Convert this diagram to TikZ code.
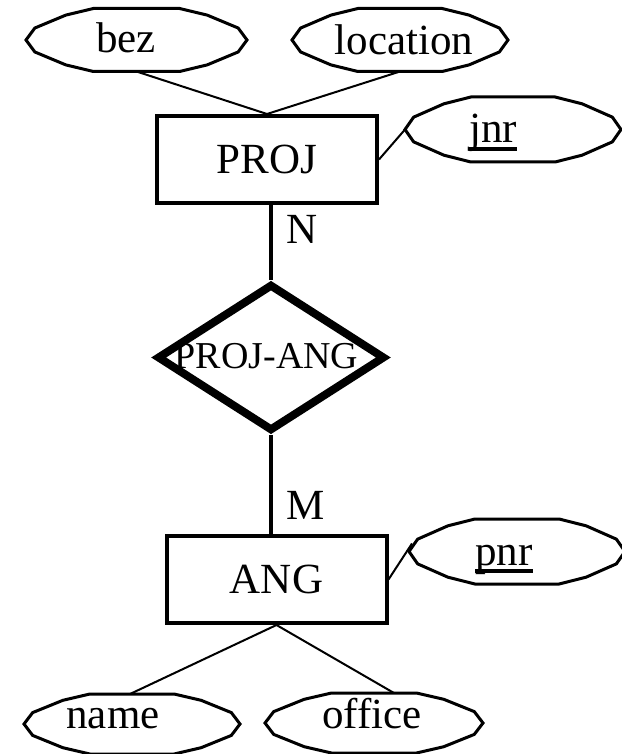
\documentclass[tikz,border=0pt]{standalone}
\usepackage{fontspec}
\setmainfont{Liberation Serif}
\usetikzlibrary{shapes.geometric,calc}

\tikzset{
  ovalline/.style={line width=3pt, line join=miter},
  conn/.style={line width=2pt},
  relconn/.style={line width=4pt},
  entity/.style={draw, rectangle, line width=4pt, minimum width=220pt,
    minimum height=87pt, inner sep=0pt, font=\fontsize{43}{50}\selectfont},
  relship/.style={draw, diamond, line width=8pt, minimum width=228pt,
    minimum height=147pt, inner sep=0pt},
  txt/.style={inner sep=0pt, anchor=base, font=\fontsize{43}{50}\selectfont},
  keyline/.style={line width=3.5pt},
}

% attribute outline: a flat-topped polygonal oval around a centre
% #1 prefix for the named points, #2 centre, #3 half width, #4 half height
\newcommand\attroval[4]{%
  \begin{scope}[shift={(#2)}, x=#3pt, y=#4pt]
    \draw[ovalline] (0.39,1) -- (0.64,0.79) -- (0.92,0.38) -- (1,0)
      -- (0.92,-0.38) -- (0.64,-0.79) -- (0.39,-1) -- (-0.39,-1)
      -- (-0.64,-0.79) -- (-0.92,-0.38) -- (-1,0) -- (-0.92,0.38)
      -- (-0.64,0.79) -- (-0.39,1) -- cycle;
    \coordinate (#1-n) at (0,1);
    \coordinate (#1-s) at (0,-1);
    \coordinate (#1-w) at (-1,0);
  \end{scope}}

\begin{document}
\begin{tikzpicture}[x=1pt, y=-1pt]
  \useasboundingbox (0,0) rectangle (621,754);

  % entities and relationship
  \node[entity] (proj) at (267,159.5) {PROJ};
  \node[entity] (ang) at (276.5,579.5) {ANG};
  \node[relship] (rel) at (271,357.5) {};
  \node[txt, font=\fontsize{38}{44}\selectfont] (relname) at (266.5,368) {PROJ-ANG};

  \draw[relconn] (rel.north |- proj.south) -- (rel.north);
  \draw[relconn] (rel.south) -- (rel.south |- ang.north);
  \node[txt, anchor=base west] (cardn) at (286,243) {N};
  \node[txt, anchor=base west] (cardm) at (286,519) {M};

  % attributes of PROJ
  \attroval{bez}{136.5,40}{110.5}{31.5}
  \node[txt] (bez) at (126,53) {bez};
  \attroval{loc}{400,40}{108}{31.5}
  \node[txt] (location) at (404,55) {location};
  \attroval{jnr}{513,129.5}{108}{32.5}
  \node[txt] (jnr) at (493,143) {jnr};
  \draw[keyline] ([yshift=-6pt]jnr.base west) -- ([yshift=-6pt]jnr.base east);

  \draw[conn] (bez-s) -- (proj.north);
  \draw[conn] (loc-s) -- (proj.north);
  \draw[conn] (proj.east) -- (jnr-w);

  % attributes of ANG
  \attroval{pnr}{517,551.5}{108}{32.5}
  \node[txt] (pnr) at (504,565) {pnr};
  \draw[keyline] ([yshift=-6pt]pnr.base west) -- ([yshift=-6pt]pnr.base east);
  \attroval{nm}{132,724}{108}{30}
  \node[txt] (name) at (113,728) {name};
  \attroval{off}{374,723}{109}{30}
  \node[txt] (office) at (372,728) {office};

  \draw[conn] (ang.east) -- ([xshift=3pt, yshift=8pt]pnr-w);
  \draw[conn] (ang.south) -- ([xshift=-2pt]nm-n);
  \draw[conn] (ang.south) -- ([xshift=20pt]off-n);
\end{tikzpicture}
\end{document}
